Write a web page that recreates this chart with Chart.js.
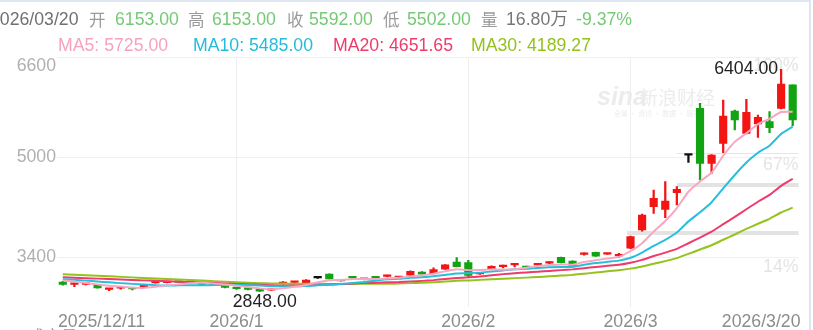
<!DOCTYPE html>
<html><head><meta charset="utf-8">
<script src="https://cdn.jsdelivr.net/npm/chart.js@4.4.1/dist/chart.umd.min.js"></script>
<style>
html,body{margin:0;padding:0;background:#fff;overflow:hidden}
#wrap{position:relative;width:813px;height:330px;overflow:hidden;background:#fff}
#frame{position:absolute;left:0;top:0;width:811px;height:330px;border-top:2px solid #dde6f1;border-right:2px solid #dde6f1;box-sizing:border-box;pointer-events:none}
.t{position:absolute;white-space:nowrap;font-family:"Liberation Sans",Arial,"Noto Sans CJK SC",sans-serif;font-size:17.7px;line-height:20px}
.cj{font-family:"Noto Sans CJK SC",sans-serif;font-size:16.5px}
canvas{position:absolute;left:0;top:0}
</style></head>
<body><div id="wrap"><canvas id="c" width="813" height="330"></canvas>
<span class="t" style="left:-10px;top:9px;color:#707070">2026/03/20</span>
<span class="t cj" style="left:89px;top:9px;color:#9a9a9a">开</span>
<span class="t" style="left:115px;top:9px;color:#76c976">6153.00</span>
<span class="t cj" style="left:188px;top:9px;color:#9a9a9a">高</span>
<span class="t" style="left:212px;top:9px;color:#76c976">6153.00</span>
<span class="t cj" style="left:287px;top:9px;color:#9a9a9a">收</span>
<span class="t" style="left:309px;top:9px;color:#76c976">5592.00</span>
<span class="t cj" style="left:383px;top:9px;color:#9a9a9a">低</span>
<span class="t" style="left:407px;top:9px;color:#76c976">5502.00</span>
<span class="t cj" style="left:481px;top:9px;color:#9a9a9a">量</span>
<span class="t" style="left:506px;top:9px;color:#777">16.80万</span>
<span class="t" style="left:576px;top:9px;color:#76c976">-9.37%</span>
<span class="t" style="left:58px;top:35px;color:#f6a3be">MA5: 5725.00</span>
<span class="t" style="left:193px;top:35px;color:#25bcd9">MA10: 5485.00</span>
<span class="t" style="left:333px;top:35px;color:#ee3b6c">MA20: 4651.65</span>
<span class="t" style="left:471px;top:35px;color:#94c11d">MA30: 4189.27</span>
<span class="t cj" style="left:28px;top:326px;color:#999">成交量</span>
<div id="frame"></div></div>
<script>
const dates = ['2025-12-11','2025-12-12','2025-12-15','2025-12-16','2025-12-17','2025-12-18','2025-12-19','2025-12-22','2025-12-23','2025-12-24','2025-12-25','2025-12-26','2025-12-29','2025-12-30','2025-12-31',
'2026-01-05','2026-01-06','2026-01-07','2026-01-08','2026-01-09','2026-01-12','2026-01-13','2026-01-14','2026-01-15','2026-01-16','2026-01-19','2026-01-20','2026-01-21','2026-01-22','2026-01-23','2026-01-26','2026-01-27','2026-01-28','2026-01-29','2026-01-30',
'2026-02-02','2026-02-03','2026-02-04','2026-02-05','2026-02-06','2026-02-09','2026-02-10','2026-02-11','2026-02-12','2026-02-13','2026-02-24','2026-02-25','2026-02-26','2026-02-27',
'2026-03-02','2026-03-03','2026-03-04','2026-03-05','2026-03-06','2026-03-09','2026-03-10','2026-03-11','2026-03-12','2026-03-13','2026-03-16','2026-03-17','2026-03-18','2026-03-19','2026-03-20'];

const open  = [3000,2962,2962,2945,2883,2900,2898,2925,2985,2990, 3000,2998,2965,2955,2925,2900,2885,2890,2868,2968, 2995,2990,3065,3125,3025,3072,3045,3070,3090,3070, 3110,3160,3135,3205,3320,3310,3128,3213,3245,3275, 3252,3272,3300,3395,3335,3440,3475,3445,3418,3540, 3832,4205,4163,4430,5030,5779,4899,5219,5736,5379, 5528,5565,5779,6153];
const close = [2960,2970,2970,2905,2892,2908,2890,2935,2995,3000, 2992,2990,2960,2950,2915,2892,2880,2855,2878,3000, 3000,3030,3065,3050,3018,3065,3040,3064,3098,3078, 3170,3125,3200,3275,3245,3105,3135,3250,3252,3278, 3230,3278,3310,3310,3255,3450,3415,3450,3442,3725, 4072,4339,4296,4483,5030,4899,5032,5656,5592,5715, 5635,5469,6168,5592];
const high  = [3010,2985,2980,2950,2900,2920,2905,2940,3005,3005, 3000,3002,2970,2960,2930,2905,2890,2895,2890,3005, 3010,3040,3072,3130,3030,3076,3050,3074,3110,3082, 3180,3165,3225,3280,3390,3345,3150,3260,3270,3280, 3255,3282,3325,3400,3340,3465,3480,3455,3458,3735, 4085,4472,4605,4525,5030,5859,5040,5912,5750,5923, 5672,5725,6404,6153];
const low   = [2950,2925,2955,2900,2860,2885,2875,2920,2980,2985, 2988,2985,2955,2945,2905,2880,2875,2848,2860,2965, 2985,2985,3058,3045,3012,3060,3035,3060,3080,3070, 3105,3120,3130,3200,3240,3080,3120,3205,3225,3240, 3225,3268,3290,3305,3245,3430,3410,3440,3395,3535, 3815,4099,4029,4232,4915,4632,4739,5069,5432,5370, 5315,5389,5770,5502];

const ma5  = [3025,3005,2985,2962,2939,2929,2913,2906,2924,2946, 2962,2982,2987,2978,2961,2941,2919,2898,2884,2901, 2923,2953,2995,3029,3033,3046,3048,3047,3057,3069, 3090,3107,3134,3170,3203,3190,3192,3202,3197,3204, 3229,3258,3270,3281,3277,3321,3348,3376,3402,3496, 3621,3806,3975,4183,4444,4609,4748,5020,5242,5379, 5526,5613,5720,5725];
const ma10 = [3045,3035,3022,3008,2995,2982,2970,2960,2950,2943, 2946,2948,2947,2951,2954,2952,2951,2943,2931,2931, 2932,2936,2947,2957,2967,2984,3000,3021,3043,3051, 3068,3077,3091,3113,3136,3140,3150,3168,3184,3204, 3210,3225,3236,3239,3240,3275,3303,3323,3342,3387, 3471,3577,3675,3793,3970,4115,4277,4497,4712,4911, 5068,5181,5370,5485];
const ma20 = [3075,3068,3061,3054,3047,3040,3033,3026,3019,3012, 3005,2998,2991,2984,2977,2970,2963,2955,2948,2942, 2944,2947,2952,2959,2966,2974,2982,2989,2995,3000, 3010,3018,3030,3047,3063,3075,3088,3108,3126,3141, 3153,3165,3177,3190,3202,3221,3240,3259,3277,3309, 3354,3415,3470,3530,3620,3710,3805,3925,4042,4164, 4284,4394,4538,4652];
const ma30 = [3125,3116,3108,3099,3091,3082,3074,3065,3057,3048, 3040,3031,3023,3014,3006,2997,2989,2982,2978,2975, 2973,2972,2971,2970,2970,2970,2971,2972,2973,2975, 2982,2987,2995,3007,3019,3025,3034,3044,3053,3062, 3070,3079,3091,3103,3114,3133,3151,3171,3189,3214, 3249,3293,3334,3382,3449,3520,3588,3676,3760,3849, 3932,4011,4112,4189];

const yTicks = [3400, 5000, 6600];
const xTickIdx = [0, 15, 35, 49, 63];
const xTickText = ['2025/12/11', '2026/1', '2026/2', '2026/3', '2026/3/20'];
const gridIdx = [15, 35, 49];
const pctLabels = ['100%', '67%', '14%'];
const levelValues = [4552, 3784];
const levelStartIdx = [53, 48.7];

const RED = '#f31414', GREEN = '#12a312', BLACK = '#111';
const candleColor = open.map((o, i) => close[i] > o ? RED : (close[i] < o ? GREEN : BLACK));
const FONT = '"Liberation Sans", Arial, sans-serif';

const deco = {
  id: 'deco',
  beforeDraw(chart) {
    const ys = chart.scales.y, xs = chart.scales.x, a = chart.chartArea;
    ys.getLabelItems().forEach(it => {
      if (it.label === '6600' && !it._s) { it.options.translation[1] += 9; it._s = true; }
    });
    xs.getLabelItems().forEach(it => {
      if (it.label === xTickText[0] && !it._s) { it.options.translation[0] = a.left + 1; it.options.textAlign = 'left'; it._s = true; }
      if (it.label === xTickText[xTickText.length - 1] && !it._s) { it.options.translation[0] = a.right + 2; it.options.textAlign = 'right'; it._s = true; }
    });
  },
  beforeDatasetsDraw(chart) {
    const { ctx, chartArea: a, scales: { x, y } } = chart;
    ctx.save();
    ctx.fillStyle = '#ececec';
    ctx.textBaseline = 'alphabetic';
    ctx.textAlign = 'left';
    ctx.font = 'italic bold 25px ' + FONT;
    ctx.fillText('sina', 597, 105);
    ctx.font = '19px "Noto Sans CJK SC"';
    ctx.fillText('新浪财经', 639, 105);
    ctx.font = '7px "Noto Sans CJK SC"';
    ctx.fillText('全景 · 资讯 · 数据 · 服务', 614, 116);
    ctx.fillStyle = '#e4e4e4';
    ctx.font = '17.7px ' + FONT;
    ctx.textAlign = 'right';
    ctx.textBaseline = 'middle';
    ctx.fillText(pctLabels[0], a.right, 66);
    ctx.fillText(pctLabels[1], a.right, 165);
    ctx.fillText(pctLabels[2], a.right, 267);
    ctx.fillStyle = '#e3e3e3';
    levelValues.forEach((v, i) => {
      const x0 = x.getPixelForValue(levelStartIdx[i]);
      const yy = y.getPixelForValue(v);
      ctx.fillRect(x0, yy - 2, a.right - x0, 4);
    });
    ctx.fillStyle = '#e6e6e6';
    ctx.fillRect(x.getPixelForValue(53), 153, a.right - x.getPixelForValue(53), 1);
    ctx.restore();
  },
  afterDatasetsDraw(chart) {
    const { ctx, scales: { x, y } } = chart;
    const hv = Math.max(...high), lv = Math.min(...low);
    const hi = high.indexOf(hv), lo = low.indexOf(lv);
    ctx.save();
    ctx.font = '17.7px ' + FONT;
    ctx.fillStyle = '#222';
    ctx.textBaseline = 'middle';
    ctx.textAlign = 'right';
    ctx.fillText(hv.toFixed(2), x.getPixelForValue(hi) - 3, y.getPixelForValue(hv));
    ctx.textAlign = 'center';
    ctx.fillText(lv.toFixed(2), x.getPixelForValue(lo) + 5, y.getPixelForValue(lv) + 11);
    ctx.restore();
  }
};

const lineDs = (label, data, color) => ({
  type: 'line', label, data, borderColor: color, borderWidth: 2, pointRadius: 0,
  tension: 0.15, fill: false, order: 0
});

new Chart(document.getElementById('c'), {
  data: {
    labels: dates,
    datasets: [
      lineDs('MA5', ma5, '#f8a6c1'),
      lineDs('MA10', ma10, '#27bfdc'),
      lineDs('MA20', ma20, '#ee3b6c'),
      lineDs('MA30', ma30, '#95c21d'),
      { type: 'bar', label: 'body', data: open.map((o, i) => [o, close[i]]), backgroundColor: candleColor,
        barThickness: 7.5, grouped: false, minBarLength: 1.6, order: 1, borderWidth: 0 },
      { type: 'bar', label: 'wick', data: low.map((l, i) => [l, high[i]]), backgroundColor: candleColor,
        barThickness: 1.6, grouped: false, order: 2, borderWidth: 0 }
    ]
  },
  options: {
    responsive: false,
    animation: false,
    events: [],
    layout: { padding: { top: 57, right: 14.5, bottom: 0, left: 0 } },
    plugins: { legend: { display: false }, tooltip: { enabled: false } },
    scales: {
      x: {
        type: 'category', offset: true,
        grid: { offset: false, drawTicks: false, lineWidth: 1,
          color: c => gridIdx.includes(c.index) ? '#eeeeee' : 'rgba(0,0,0,0)' },
        border: { display: false },
        ticks: { autoSkip: false, maxRotation: 0, minRotation: 0, padding: 4, align: 'inner', color: '#8c8c8c',
          font: { size: 17.7, family: FONT },
          callback: (v, i) => { const k = xTickIdx.indexOf(i); return k >= 0 ? xTickText[k] : ''; } },
        afterFit: s => { s.height = 23; s.paddingLeft = 0; s.paddingRight = 0; }
      },
      y: {
        min: 2600, max: 6600,
        afterBuildTicks: s => { s.ticks = yTicks.map(v => ({ value: v })); },
        grid: { color: '#f0f0f0', drawTicks: false },
        border: { display: false },
        ticks: { padding: 1, color: '#b0b0b0', font: { size: 17.7, family: FONT }, callback: v => String(v) },
        afterFit: s => { s.width = 57; s.paddingTop = 0; s.paddingBottom = 0; }
      }
    }
  },
  plugins: [deco]
});
</script>
</body></html>
